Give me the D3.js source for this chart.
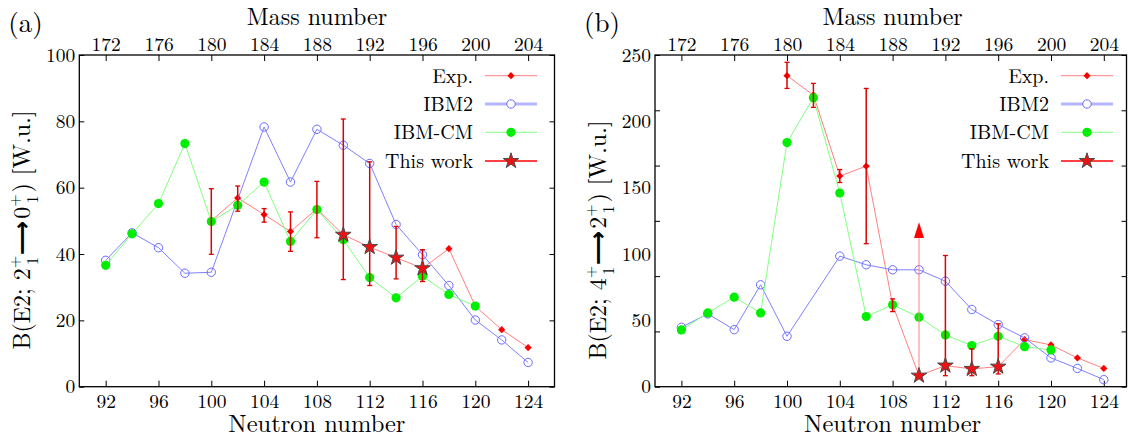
<!DOCTYPE html>
<html>
<head>
<meta charset="utf-8">
<script src="https://cdn.jsdelivr.net/npm/d3@7"></script>
<style>
body { margin: 0; background: #fff; }
</style>
</head>
<body>
<div id="chart"></div>
<script>
// x values shared by both panels
var neutron = [92, 94, 96, 98, 100, 102, 104, 106, 108, 110, 112, 114, 116, 118, 120, 122, 124];
var neutronTicks = [92, 96, 100, 104, 108, 112, 116, 120, 124];
var massTicks = [172, 176, 180, 184, 188, 192, 196, 200, 204];

// ---- panel (a): B(E2; 2+ -> 0+)
var ibm2_a  = [38.1, 46.4, 41.9, 34.2, 34.5, null, 78.3, 61.7, 77.6, 72.8, 67.3, 48.9, 39.8, 30.5, 20.1, 14.1, 7.3];
var ibmcm_a = [36.6, 46.1, 55.2, 73.3, 49.8, 54.7, 61.7, 43.8, 53.4, 44.3, 32.9, 26.8, 33.3, 27.8, 24.3, null, null];
var expN_a  = [100, 102, 104, 106, 108, 110, 112, 114, 116, 118, 120, 122, 124];
var exp_a   = [50.0, 56.9, 51.9, 46.8, 53.6, 45.8, 42.1, 38.9, 35.7, 41.6, 24.3, 17.2, 11.8];
var errN_a  = [100, 102, 104, 106, 108, 110, 112, 114, 116];
var errLo_a = [39.9, 52.9, 49.6, 40.8, 44.9, 32.3, 30.5, 32.5, 31.7];
var errHi_a = [59.7, 60.5, 53.7, 52.7, 61.9, 80.7, 67.8, 48.3, 41.3];
var workN_a = [110, 112, 114, 116];
var work_a  = [45.8, 42.1, 38.9, 35.7];
var yTicks_a = [0, 20, 40, 60, 80, 100];

// ---- panel (b): B(E2; 4+ -> 2+)
var ibm2_b  = [44.8, 54.9, 43.0, 76.8, 38.0, null, 98.4, 91.9, 88.1, 88.1, 79.5, 58.2, 46.8, 36.8, 21.7, 13.8, 5.3];
var ibmcm_b = [42.8, 55.6, 67.5, 55.6, 184.0, 217.8, 146.0, 52.9, 61.7, 52.4, 39.0, 31.0, 38.0, 30.2, 27.7, null, null];
var expN_b  = [100, 102, 104, 106, 108, 110, 112, 114, 116, 118, 120, 122, 124];
var exp_b   = [234.4, 219.8, 158.8, 166.2, 61.7, 8.3, 15.9, 13.4, 15.1, 35.5, 31.5, 21.7, 13.8];
var errN_b  = [100, 102, 104, 106, 108, 112, 114, 116];
var errLo_b = [224.8, 210.5, 153.9, 107.8, 56.6, 8.3, 8.3, 9.6];
var errHi_b = [244.5, 228.6, 163.7, 224.8, 66.2, 98.9, 28.5, 47.4];
var workN_b = [110, 112, 114, 116];
var work_b  = [8.3, 15.9, 13.4, 15.1];
var limitN_b = [110];
var limitBase_b = [112];
var limitTip_b = [124];
var yTicks_b = [0, 50, 100, 150, 200, 250];
var yMarks_b = [0, 41.67, 83.33, 125, 166.67, 208.33, 250];

var legendNames = ["Exp.", "IBM2", "IBM-CM", "This work"];

var FONT = "'Latin Modern Roman', 'CMU Serif', 'Liberation Serif', 'DejaVu Serif', 'Noto Serif', 'Liberation Sans', sans-serif";
var W = 1128, H = 438;
var svg = d3.select("#chart").append("svg")
  .attr("width", W)
  .attr("height", H)
  .style("display", "block")
  .style("font-family", FONT);

var colExpLine = "#ff8080", colExp = "#ff0000";
var colIbm2Line = "#8080ff", colIbm2 = "#6a6aff";
var colCmLine = "#80ff80", colCm = "#00ee00";
var colErr = "#e00000";

function drawPanel(p) {
  var g = svg.append("g");
  var x = d3.scaleLinear().domain([90, 126]).range([p.left, p.left + 475.2]);
  var xm = d3.scaleLinear().domain([170, 206]).range([p.left, p.left + 475.2]);
  var y = d3.scaleLinear().domain([0, p.ymax]).range([386.7, 55]);
  var right = Math.min(x(126), 1126.5);

  // axes
  var fs = 19.5;
  g.append("g").attr("transform", "translate(0,386.7)")
    .call(d3.axisBottom(x).tickValues(neutronTicks).tickSizeInner(-6).tickSizeOuter(0).tickPadding(7));
  g.append("g").attr("transform", "translate(0,55)")
    .call(d3.axisTop(xm).tickValues(massTicks).tickSizeInner(-6).tickSizeOuter(0).tickPadding(4));
  if (p.yMarks) {
    g.append("g").attr("transform", "translate(" + p.left + ",0)")
      .call(d3.axisLeft(y).tickValues(p.yMarks).tickSizeInner(-5).tickSizeOuter(0).tickFormat(""));
    g.append("g").attr("transform", "translate(" + p.left + ",0)")
      .call(d3.axisLeft(y).tickValues(p.yTicks).tickSize(0).tickPadding(4));
    g.append("g").attr("transform", "translate(" + right + ",0)")
      .call(d3.axisRight(y).tickValues(p.yMarks).tickSizeInner(-5).tickSizeOuter(0).tickFormat(""));
  } else {
    g.append("g").attr("transform", "translate(" + p.left + ",0)")
      .call(d3.axisLeft(y).tickValues(p.yTicks).tickSizeInner(-5).tickSizeOuter(0).tickPadding(4));
    g.append("g").attr("transform", "translate(" + right + ",0)")
      .call(d3.axisRight(y).tickValues(p.yTicks).tickSizeInner(-5).tickSizeOuter(0).tickFormat(""));
  }
  g.selectAll(".domain").remove();
  g.selectAll(".tick line").attr("stroke", "#000").attr("stroke-width", 1);
  g.selectAll("g").attr("font-family", FONT).attr("font-size", fs);
  g.selectAll(".tick text").attr("fill", "#000");

  // frame
  g.append("rect")
    .attr("x", p.left).attr("y", 55)
    .attr("width", right - p.left).attr("height", 386.7 - 55)
    .attr("fill", "none").attr("stroke", "#000").attr("stroke-width", 1.3);

  // titles
  g.append("text").attr("x", (p.left + x(126)) / 2).attr("y", 431.5)
    .attr("text-anchor", "middle").attr("font-size", 24.5).text("Neutron number");
  g.append("text").attr("x", (p.left + x(126)) / 2).attr("y", 25)
    .attr("text-anchor", "middle").attr("font-size", 24).text("Mass number");
  g.append("text").attr("x", p.left - 71).attr("y", 32)
    .attr("font-size", 27).text(p.tag);

  var t = g.append("text")
    .attr("transform", "translate(" + (p.left - 49) + "," + p.titleY + ") rotate(-90)")
    .attr("text-anchor", "middle").attr("font-size", 24);
  t.append("tspan").text("B(E2; " + p.from);
  t.append("tspan").attr("font-size", 16).attr("dy", -10).text("+");
  t.append("tspan").attr("font-size", 16).attr("dx", -9.3).attr("dy", 18).text("1");
  t.append("tspan").attr("dy", -8).attr("dx", 2).attr("font-size", 24).style("font-family", "'DejaVu Sans'").attr("font-weight", "bold").text("\u27F6");
  t.append("tspan").attr("dx", 2).text(p.to);
  t.append("tspan").attr("font-size", 16).attr("dy", -10).text("+");
  t.append("tspan").attr("font-size", 16).attr("dx", -9.3).attr("dy", 18).text("1");
  t.append("tspan").attr("dy", -8).attr("dx", 3).text(") [W.u.]");

  var line = d3.line()
    .defined(function(d) { return d[1] != null; })
    .x(function(d) { return x(d[0]); })
    .y(function(d) { return y(d[1]); });

  var expPts = p.expN.map(function(n, i) { return [n, p.exp[i]]; });
  var ibm2Pts = neutron.map(function(n, i) { return [n, p.ibm2[i]]; }).filter(function(d) { return d[1] != null; });
  var cmPts = neutron.map(function(n, i) { return [n, p.ibmcm[i]]; }).filter(function(d) { return d[1] != null; });

  // Exp line + diamonds
  g.append("path").attr("d", line(expPts))
    .attr("fill", "none").attr("stroke", colExpLine).attr("stroke-width", 1);
  var diamond = d3.symbol().type(d3.symbolSquare).size(26);
  g.selectAll(".expPt")
    .data(expPts.filter(function(d) { return p.workN.indexOf(d[0]) < 0; }))
    .enter().append("path")
    .attr("d", diamond)
    .attr("transform", function(d) { return "translate(" + x(d[0]) + "," + y(d[1]) + ") rotate(45)"; })
    .attr("fill", colExp);

  // IBM2
  g.append("path").attr("d", line(ibm2Pts))
    .attr("fill", "none").attr("stroke", colIbm2Line).attr("stroke-width", 1);
  g.selectAll(".ibm2Pt").data(ibm2Pts).enter().append("circle")
    .attr("cx", function(d) { return x(d[0]); })
    .attr("cy", function(d) { return y(d[1]); })
    .attr("r", 4.2)
    .attr("fill", "none").attr("stroke", colIbm2).attr("stroke-width", 1);

  // IBM-CM
  g.append("path").attr("d", line(cmPts))
    .attr("fill", "none").attr("stroke", colCmLine).attr("stroke-width", 1);
  g.selectAll(".cmPt").data(cmPts).enter().append("circle")
    .attr("cx", function(d) { return x(d[0]); })
    .attr("cy", function(d) { return y(d[1]); })
    .attr("r", 4.6)
    .attr("fill", colCm);

  // error bars
  var errs = p.errN.map(function(n, i) { return [n, p.errLo[i], p.errHi[i]]; });
  var eb = g.selectAll(".err").data(errs).enter().append("g");
  eb.append("line")
    .attr("x1", function(d) { return x(d[0]); }).attr("x2", function(d) { return x(d[0]); })
    .attr("y1", function(d) { return y(d[1]); }).attr("y2", function(d) { return y(d[2]); })
    .attr("stroke", colErr).attr("stroke-width", 1.5);
  [1, 2].forEach(function(k) {
    eb.append("line")
      .attr("x1", function(d) { return x(d[0]) - 2.5; }).attr("x2", function(d) { return x(d[0]) + 2.5; })
      .attr("y1", function(d) { return y(d[k]); }).attr("y2", function(d) { return y(d[k]); })
      .attr("stroke", colErr).attr("stroke-width", 1.3);
  });

  // lower limit arrow
  if (p.limitN) {
    p.limitN.forEach(function(n, i) {
      var v = p.exp[p.expN.indexOf(n)];
      g.append("line")
        .attr("x1", x(n)).attr("x2", x(n))
        .attr("y1", y(v)).attr("y2", y(p.limitBase[i]))
        .attr("stroke", colExpLine).attr("stroke-width", 1);
      g.append("path")
        .attr("d", "M" + (x(n) - 5) + "," + y(p.limitBase[i]) + "L" + (x(n) + 5) + "," + y(p.limitBase[i]) + "L" + x(n) + "," + y(p.limitTip[i]) + "Z")
        .attr("fill", colExp);
    });
  }

  // this work stars
  var star = d3.symbol().type(d3.symbolStar).size(75);
  g.selectAll(".star").data(p.workN.map(function(n, i) { return [n, p.work[i]]; }))
    .enter().append("path")
    .attr("d", star)
    .attr("transform", function(d) { return "translate(" + x(d[0]) + "," + y(d[1]) + ")"; })
    .attr("fill", "#ee1111").attr("stroke", "#4a4a4a").attr("stroke-width", 1);

  // legend
  var rows = [75.7, 104, 132.3, 161];
  var lx = p.legendX;
  var leg = g.append("g");
  legendNames.forEach(function(name, i) {
    leg.append("text").attr("x", lx).attr("y", rows[i] + 7)
      .attr("text-anchor", "end").attr("font-size", 20).text(name);
  });
  leg.append("line").attr("x1", lx + 12).attr("x2", lx + 64).attr("y1", rows[0]).attr("y2", rows[0])
    .attr("stroke", colExpLine).attr("stroke-width", 1);
  leg.append("path").attr("d", diamond).attr("transform", "translate(" + (lx + 38) + "," + rows[0] + ") rotate(45)").attr("fill", colExp);
  leg.append("line").attr("x1", lx + 12).attr("x2", lx + 64).attr("y1", rows[1]).attr("y2", rows[1])
    .attr("stroke", "#b4b4ff").attr("stroke-width", 3);
  leg.append("circle").attr("cx", lx + 38).attr("cy", rows[1]).attr("r", 4.2)
    .attr("fill", "#fff").attr("stroke", colIbm2);
  leg.append("line").attr("x1", lx + 12).attr("x2", lx + 64).attr("y1", rows[2]).attr("y2", rows[2])
    .attr("stroke", colCmLine).attr("stroke-width", 1);
  leg.append("circle").attr("cx", lx + 38).attr("cy", rows[2]).attr("r", 4.6).attr("fill", colCm);
  leg.append("line").attr("x1", lx + 12).attr("x2", lx + 64).attr("y1", rows[3]).attr("y2", rows[3])
    .attr("stroke", "#ff0000").attr("stroke-width", 1.6);
  leg.append("path").attr("d", star).attr("transform", "translate(" + (lx + 38) + "," + rows[3] + ")")
    .attr("fill", "#ee1111").attr("stroke", "#4a4a4a");
}

drawPanel({
  left: 79.3, ymax: 100, yTicks: yTicks_a, tag: "(a)", titleY: 230, from: "2", to: "0",
  ibm2: ibm2_a, ibmcm: ibmcm_a, expN: expN_a, exp: exp_a,
  errN: errN_a, errLo: errLo_a, errHi: errHi_a, workN: workN_a, work: work_a,
  legendX: 473
});
drawPanel({
  left: 655, ymax: 250, yTicks: yTicks_b, yMarks: yMarks_b, tag: "(b)", titleY: 240, from: "4", to: "2",
  ibm2: ibm2_b, ibmcm: ibmcm_b, expN: expN_b, exp: exp_b,
  errN: errN_b, errLo: errLo_b, errHi: errHi_b, workN: workN_b, work: work_b,
  limitN: limitN_b, limitBase: limitBase_b, limitTip: limitTip_b,
  legendX: 1049
});
</script>
</body>
</html>
